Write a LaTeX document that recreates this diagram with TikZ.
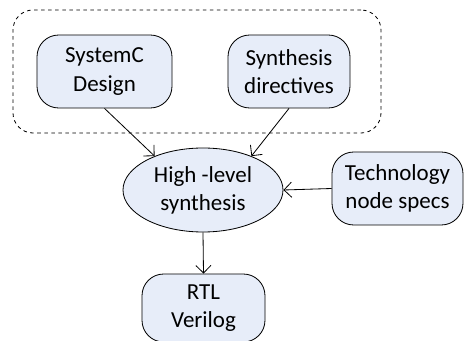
\documentclass[tikz,border=0pt]{standalone}
\usepackage{fontspec}
\setmainfont{Carlito}
\usepackage{tikz}
\usetikzlibrary{shapes,arrows.meta,positioning}
\definecolor{boxfill}{RGB}{231,237,249}

\begin{document}
\begin{tikzpicture}[
    x=0.03cm, y=-0.03cm,
    box/.style={rectangle, draw=black, fill=boxfill, rounded corners=0.65cm, line width=0.7pt,
                align=center, font=\fontsize{19.6}{24}\selectfont, inner sep=0pt},
    oval/.style={ellipse, draw=black, fill=boxfill, line width=0.7pt, inner sep=0pt,
                 align=center, font=\fontsize{19.6}{24}\selectfont},
    group/.style={rectangle, draw=black, dashed, rounded corners=0.6cm, line width=0.7pt},
    arrow/.style={-{Straight Barb[length=6.5pt,width=13pt]}, line width=0.7pt}
]
    \useasboundingbox (0,0) rectangle (465,341);

    % Inputs grouped by the dashed frame
    \node[group, minimum width=11.04cm, minimum height=3.69cm] (grp) at (197,71.5) {};
    \node[box, minimum width=4.05cm, minimum height=2.19cm] (sysc) at (104.5,71.5) {SystemC\\Design};
    \node[box, minimum width=3.66cm, minimum height=2.19cm] (dirs) at (289,71.5) {Synthesis\\directives};

    % Synthesis step
    \node[oval, minimum width=4.8cm, minimum height=2.52cm] (hls) at (203,190) {High -level\\synthesis};
    \node[box, minimum width=3.93cm, minimum height=2.19cm] (tech) at (397.5,188.5) {Technology\\node specs};

    % Output
    \node[box, minimum width=3.69cm, minimum height=2.04cm] (rtl) at (203.5,308) {RTL\\Verilog};

    % Connections
    \draw[arrow] (sysc.south) -- (hls.145);
    \draw[arrow] (dirs.south) -- (hls.35);
    \draw[arrow] (tech.west) -- (hls.east);
    \draw[arrow] (hls.south) -- (rtl.north);

\end{tikzpicture}
\end{document}
